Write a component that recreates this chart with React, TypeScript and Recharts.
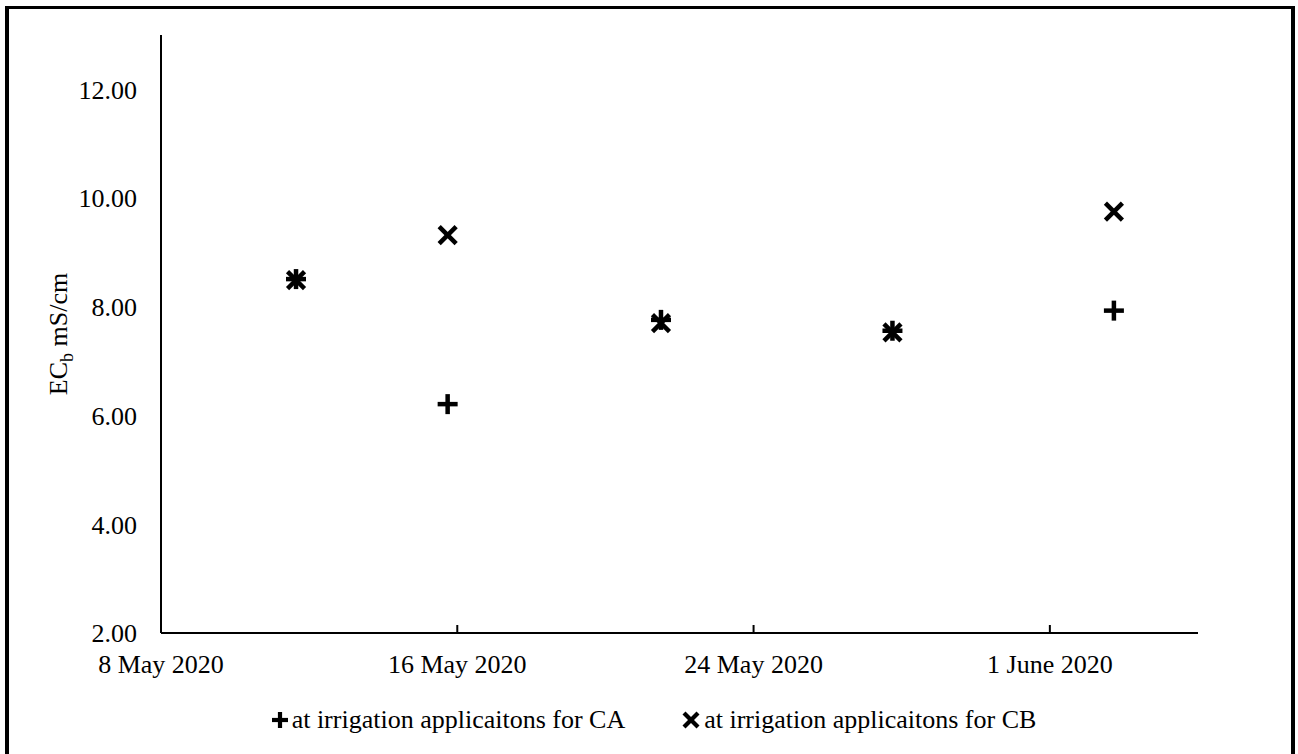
import { ScatterChart, Scatter, XAxis, YAxis, Legend, Label } from 'recharts';

// sampling dates (both treatments measured on the same days)
const sampleDates = [
  '2020-05-11T15:30',
  '2020-05-15T17:45',
  '2020-05-21T12:00',
  '2020-05-27T18:00',
  '2020-06-02T17:30',
];
const ecCA = [8.51, 6.21, 7.76, 7.56, 7.93];
const ecCB = [8.49, 9.32, 7.7, 7.53, 9.75];

const xTickDates = ['2020-05-08', '2020-05-16', '2020-05-24', '2020-06-01'];
const xTickLabels = ['8 May 2020', '16 May 2020', '24 May 2020', '1 June 2020'];
const yTicks = [2, 4, 6, 8, 10, 12];

const seriesNames = ['at irrigation applicaitons for CA', 'at irrigation applicaitons for CB'];

const toMs = (s: string) => Date.parse(s.length > 10 ? s + 'Z' : s + 'T00:00Z');

const xStart = toMs('2020-05-08');
const xEnd = toMs('2020-06-05');
const xTicks = xTickDates.map(toMs);

const caData = sampleDates.map((d, i) => ({ t: toMs(d), ec: ecCA[i] }));
const cbData = sampleDates.map((d, i) => ({ t: toMs(d), ec: ecCB[i] }));

const FONT = '"Liberation Serif", "Times New Roman", serif';

function PlusMark({ cx, cy, size = 10, sw = 4.5 }: any) {
  return (
    <g>
      <line x1={cx - size} y1={cy} x2={cx + size} y2={cy} stroke="#000" strokeWidth={sw} />
      <line x1={cx} y1={cy - size} x2={cx} y2={cy + size} stroke="#000" strokeWidth={sw} />
    </g>
  );
}

function CrossMark({ cx, cy, size = 8.5, sw = 4.5 }: any) {
  return (
    <g>
      <line x1={cx - size} y1={cy - size} x2={cx + size} y2={cy + size} stroke="#000" strokeWidth={sw} />
      <line x1={cx - size} y1={cy + size} x2={cx + size} y2={cy - size} stroke="#000" strokeWidth={sw} />
    </g>
  );
}

function DateTick({ x, y, payload }: any) {
  const idx = xTicks.indexOf(payload.value);
  return (
    <g>
      <line x1={x} y1={y} x2={x} y2={y - 8} stroke="#000" strokeWidth={2} />
      <text x={x} y={y + 40} textAnchor="middle" fontSize={26} fontFamily={FONT} fill="#000">
        {idx >= 0 ? xTickLabels[idx] : ''}
      </text>
    </g>
  );
}

function YTitle() {
  const cx = 67;
  const cy = 334;
  return (
    <text
      x={cx}
      y={cy}
      transform={`rotate(-90, ${cx}, ${cy})`}
      textAnchor="middle"
      fontSize={26}
      fontFamily={FONT}
      fill="#000"
      style={{ fill: '#000' }}
    >
      EC
      <tspan fontSize={18} dy={6}>b</tspan>
      <tspan dy={-6}> mS/cm</tspan>
    </text>
  );
}

function LegendBox() {
  const itemStyle: React.CSSProperties = { display: 'flex', alignItems: 'center' };
  return (
    <div
      style={{
        height: 40,
        display: 'flex',
        justifyContent: 'center',
        alignItems: 'center',
        paddingLeft: 9,
        fontFamily: FONT,
        fontSize: 26,
        color: '#000',
      }}
    >
      <div style={itemStyle}>
        <svg width={18} height={18} style={{ marginRight: 3 }}>
          <PlusMark cx={9} cy={9} size={8} sw={4.2} />
        </svg>
        <span>{seriesNames[0]}</span>
      </div>
      <div style={{ ...itemStyle, marginLeft: 57 }}>
        <svg width={20} height={20} style={{ marginRight: 2 }}>
          <CrossMark cx={9} cy={10} size={7} sw={4.2} />
        </svg>
        <span>{seriesNames[1]}</span>
      </div>
    </div>
  );
}

export default function App() {
  return (
    <div
      style={{
        position: 'absolute',
        left: 0,
        top: 0,
        width: 1298,
        height: 754,
        overflow: 'hidden',
        background: '#fff',
      }}
    >
      <ScatterChart
        width={1298}
        height={754}
        margin={{ top: 35, right: 100, bottom: 14, left: 0 }}
      >
        <XAxis
          type="number"
          dataKey="t"
          domain={[xStart, xEnd]}
          ticks={xTicks}
          interval={0}
          tick={<DateTick />}
          tickLine={false}
          tickSize={0}
          tickMargin={0}
          height={67}
          axisLine={{ stroke: '#000', strokeWidth: 2 }}
        />
        <YAxis
          type="number"
          dataKey="ec"
          domain={[2, 13]}
          ticks={yTicks}
          interval={0}
          width={161}
          tickLine={false}
          tickMargin={18}
          tickFormatter={(v: number) => v.toFixed(2)}
          tick={{ fontSize: 26, fontFamily: FONT, fill: '#000' }}
          axisLine={{ stroke: '#000', strokeWidth: 2 }}
        >
          <Label content={<YTitle />} />
        </YAxis>
        <Legend
          verticalAlign="bottom"
          content={<LegendBox />}
          wrapperStyle={{ left: 0, width: 1298 }}
        />
        <Scatter
          name={seriesNames[0]}
          data={caData}
          isAnimationActive={false}
          shape={(p: any) => <PlusMark cx={p.cx} cy={p.cy} />}
        />
        <Scatter
          name={seriesNames[1]}
          data={cbData}
          isAnimationActive={false}
          shape={(p: any) => <CrossMark cx={p.cx} cy={p.cy} />}
        />
      </ScatterChart>
      <div
        style={{
          position: 'absolute',
          left: 5,
          top: 6,
          width: 1290,
          height: 780,
          boxSizing: 'border-box',
          border: '3px solid #000',
          borderLeftWidth: 4,
          borderRightWidth: 4,
          pointerEvents: 'none',
        }}
      />
    </div>
  );
}
